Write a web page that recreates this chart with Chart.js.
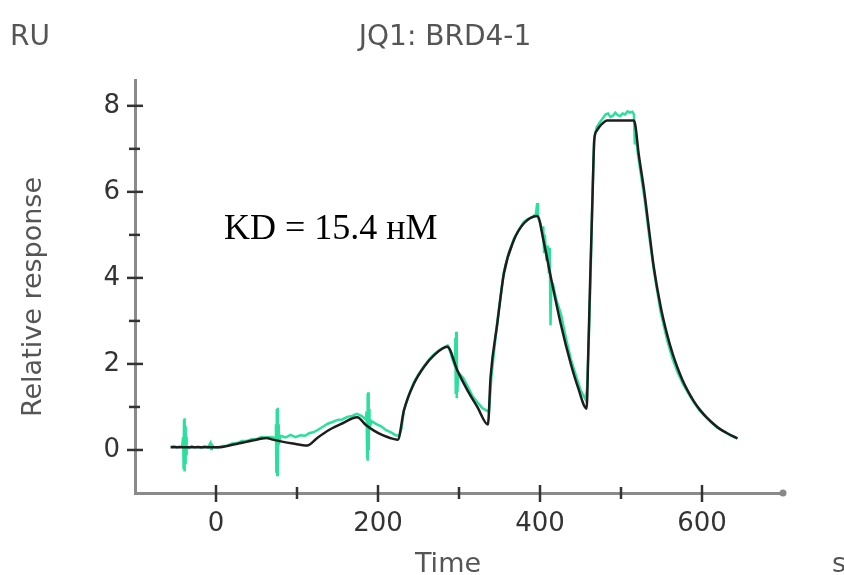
<!DOCTYPE html>
<html>
<head>
<meta charset="utf-8">
<script src="https://cdn.jsdelivr.net/npm/chart.js@4.4.0/dist/chart.umd.min.js"></script>
<style>
  html, body { margin: 0; padding: 0; background: #fff; }
  #wrap { width: 844px; height: 575px; }
</style>
</head>
<body>
<div id="wrap"><canvas id="kinChart" width="844" height="575"></canvas></div>
<script>
// fitted curve (black)
const fitTime = [-56, 5, 15, 25, 35, 45, 55, 62, 70, 80, 95, 112.6,
  125, 140, 155, 174.4, 185, 195, 205, 215, 224.5,
  232, 244.3, 256.7, 269, 285.6, 297.9, 310.3, 322.6, 335.7,
  339, 347.3, 355.5, 367.8, 380.2, 396.7, 404.9, 413.2, 425.5, 437.9, 447, 457.6,
  459.5, 462, 465, 467, 470, 475, 483, 516,
  522.2, 528.4, 534.6, 540.4, 549, 557, 564, 570, 576, 582, 590, 598, 606, 614, 622, 630, 638, 643.8];
const fitResp = [0.065, 0.065, 0.10, 0.14, 0.18, 0.22, 0.26, 0.28, 0.24, 0.20, 0.15, 0.105,
  0.28, 0.47, 0.61, 0.76, 0.58, 0.45, 0.35, 0.28, 0.24,
  0.92, 1.54, 1.93, 2.20, 2.40, 1.85, 1.39, 1.00, 0.59,
  1.70, 2.94, 4.11, 4.88, 5.27, 5.44, 4.81, 4.03, 2.94, 2.01, 1.45, 0.96,
  2.2, 4.0, 6.0, 7.21, 7.42, 7.55, 7.66, 7.66,
  6.83, 6.05, 5.12, 4.26, 3.33, 2.68, 2.22, 1.90, 1.62, 1.39, 1.13, 0.92, 0.75, 0.61, 0.49, 0.40, 0.32, 0.27];

// measured sensorgram (green)
const dataTime = [-56, -52, -48, -45, -42, -40.5, -40, -39.5, -39, -38.5, -38, -37.5, -37, -36.5, -36, -33, -30, -26, -22, -18, -14, -10,
  -7, -6, -5, -3, 2, 8, 14, 20, 26, 32, 38, 44, 50, 56, 62, 68, 73,
  74, 74.5, 75, 75.5, 76, 76.5, 77, 77.5, 80, 86, 92, 98, 104, 110, 115, 120, 126, 132, 138, 144, 150, 156, 162, 168, 174, 180, 185,
  186, 186.5, 187, 187.5, 188, 188.5, 189, 189.5, 192, 198, 204, 210, 216, 222, 226,
  229, 232, 238, 244, 250, 257, 263, 269, 275, 281, 286, 289, 292, 295,
  295.5, 296, 296.5, 297, 297.5, 298, 299, 305, 311, 317, 323, 329, 335, 337,
  340, 347, 355, 361, 368, 374, 380, 386, 391, 395, 396.5, 397.5, 400, 403, 404, 405, 406, 408, 409.5, 411, 412, 413, 414, 416,
  420, 426, 432, 438, 444, 450, 456, 458,
  460, 462.5, 465, 467, 470, 474, 478, 481, 484, 487, 490, 493, 496, 499, 502, 505, 508, 511, 514, 516,
  517, 518, 520, 523, 529, 535, 541, 549, 557, 564, 570, 577, 583, 590, 597, 604, 611, 619, 627, 635, 643.8];
const dataResp = [0.07, 0.09, 0.06, 0.08, 0.07, 0.30, -0.45, 0.70, -0.50, 0.74, -0.30, 0.55, -0.10, 0.30, 0.08, 0.05, 0.09, 0.06, 0.08, 0.05, 0.09, 0.06,
  0.16, 0.02, 0.12, 0.07, 0.06, 0.09, 0.10, 0.15, 0.16, 0.21, 0.21, 0.25, 0.25, 0.30, 0.29, 0.30, 0.28,
  0.60, -0.50, 0.95, -0.58, 0.98, -0.30, 0.60, 0.15, 0.33, 0.29, 0.35, 0.30, 0.34, 0.33, 0.39, 0.41, 0.47, 0.54, 0.61, 0.65, 0.70, 0.71, 0.77, 0.79, 0.84, 0.79, 0.71,
  0.90, -0.10, 1.30, -0.25, 1.34, 0.00, 0.95, 0.50, 0.67, 0.60, 0.55, 0.46, 0.41, 0.34, 0.33,
  0.50, 0.92, 1.28, 1.56, 1.76, 1.95, 2.10, 2.22, 2.31, 2.38, 2.43, 2.30, 2.10, 1.95,
  2.60, 1.30, 2.75, 1.20, 2.40, 1.35, 1.80, 1.68, 1.47, 1.24, 1.10, 0.97, 0.91, 0.88,
  1.70, 2.95, 4.10, 4.55, 4.92, 5.12, 5.30, 5.38, 5.42, 5.48, 5.74, 5.40, 5.30, 5.05, 5.20, 4.60, 5.00, 4.40, 4.75, 4.10, 4.70, 2.90, 3.90, 3.85,
  3.50, 3.15, 2.60, 2.12, 1.75, 1.40, 1.18, 1.40,
  2.40, 4.10, 6.10, 7.25, 7.50, 7.62, 7.72, 7.80, 7.82, 7.74, 7.77, 7.84, 7.78, 7.76, 7.82, 7.80, 7.87, 7.84, 7.86, 7.80,
  7.10, 7.40, 7.00, 6.60, 5.85, 4.95, 4.12, 3.20, 2.55, 2.10, 1.80, 1.52, 1.32, 1.10, 0.92, 0.78, 0.65, 0.52, 0.43, 0.34, 0.27];

const xTicks = [0, 200, 400, 600];
const xMinor = [100, 300, 500];
const yTicks = [0, 2, 4, 6, 8];
const yMinor = [1, 3, 5, 7];

const fitPoints = fitTime.map((t, i) => ({ x: t, y: fitResp[i] }));
const dataPoints = dataTime.map((t, i) => ({ x: t, y: dataResp[i] }));

const sans = "'DejaVu Sans', sans-serif";

// tick marks crossing the axes, texts round the plot
const decor = {
  id: "decor",
  afterDraw(chart) {
    const ctx = chart.ctx;
    const xs = chart.scales.x;
    const ys = chart.scales.y;
    const a = chart.chartArea;
    ctx.save();
    ctx.strokeStyle = "#333";
    ctx.lineWidth = 2.5;
    const seg = (x1, y1, x2, y2) => {
      ctx.beginPath();
      ctx.moveTo(x1, y1);
      ctx.lineTo(x2, y2);
      ctx.stroke();
    };
    xTicks.forEach((v) => { const px = xs.getPixelForValue(v); seg(px, a.bottom - 8, px, a.bottom + 9); });
    xMinor.forEach((v) => { const px = xs.getPixelForValue(v); seg(px, a.bottom - 6, px, a.bottom + 6); });
    yTicks.forEach((v) => { const py = ys.getPixelForValue(v); seg(a.left - 8, py, a.left + 8, py); });
    yMinor.forEach((v) => { const py = ys.getPixelForValue(v); seg(a.left - 6, py, a.left + 5, py); });

    // round end of the time axis
    ctx.fillStyle = "#888";
    ctx.beginPath();
    ctx.arc(a.right, a.bottom, 3.5, 0, Math.PI * 2);
    ctx.fill();

    ctx.fillStyle = "#555";
    ctx.textBaseline = "alphabetic";
    ctx.font = "28px " + sans;
    ctx.textAlign = "left";
    ctx.fillText("RU", 10, 45);
    ctx.textAlign = "center";
    ctx.fillText("JQ1: BRD4-1", 445, 45);
    ctx.font = "27px " + sans;
    ctx.fillText("Time", 448, 572);
    ctx.textAlign = "left";
    ctx.fillText("s", 832, 572);

    ctx.save();
    ctx.translate(41, 297);
    ctx.rotate(-Math.PI / 2);
    ctx.textAlign = "center";
    ctx.font = "27px " + sans;
    ctx.fillText("Relative response", 0, 0);
    ctx.restore();

    ctx.fillStyle = "#000";
    ctx.textAlign = "left";
    ctx.font = "36px 'Liberation Serif', 'Times New Roman', serif";
    ctx.fillText("KD = 15.4 нМ", 224, 239);
    ctx.restore();
  },
};

const ctx = document.getElementById("kinChart").getContext("2d");

const kinChart = new Chart(ctx, {
  type: "line",
  data: {
    datasets: [
      {
        label: "Fit",
        data: fitPoints,
        borderColor: "#1e1e1e",
        borderWidth: 2.5,
        pointRadius: 0,
        cubicInterpolationMode: "monotone",
        order: 0,
      },
      {
        label: "Data",
        data: dataPoints,
        borderColor: "#2bdf9c",
        borderWidth: 2.5,
        pointRadius: 0,
        tension: 0,
        order: 1,
      },
    ],
  },
  options: {
    responsive: false,
    animation: false,
    devicePixelRatio: 1,
    layout: { padding: { left: 0, right: 61, top: 80, bottom: 0 } },
    plugins: { legend: { display: false }, tooltip: { enabled: false }, title: { display: false } },
    scales: {
      x: {
        type: "linear",
        min: -100,
        max: 700,
        afterFit: (s) => { s.height = 82; },
        afterBuildTicks: (s) => { s.ticks = xTicks.map((v) => ({ value: v })); },
        grid: { display: false, drawTicks: false },
        border: { display: true, color: "#8a8a8a", width: 3 },
        ticks: { color: "#333", font: { family: sans, size: 26 }, padding: 16, maxRotation: 0, autoSkip: false },
      },
      y: {
        type: "linear",
        min: -1,
        max: 8.6,
        afterFit: (s) => { s.width = 135; },
        afterBuildTicks: (s) => { s.ticks = yTicks.map((v) => ({ value: v })); },
        grid: { display: false, drawTicks: false },
        border: { display: true, color: "#8a8a8a", width: 3 },
        ticks: { color: "#333", font: { family: sans, size: 26 }, padding: 15 },
      },
    },
  },
  plugins: [decor],
});
</script>
</body>
</html>
